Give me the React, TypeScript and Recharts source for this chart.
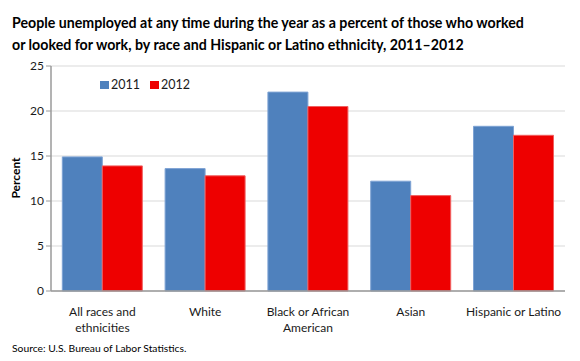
import React from "react";
import { Bar, BarChart, CartesianGrid, XAxis, YAxis } from "recharts";

const categories = [
  "All races and\nethnicities",
  "White",
  "Black or African\nAmerican",
  "Asian",
  "Hispanic or Latino",
];
const values2011 = [14.9, 13.6, 22.1, 12.2, 18.3];
const values2012 = [13.9, 12.8, 20.5, 10.6, 17.3];
const yTicks = [0, 5, 10, 15, 20, 25];

const FONT = "Lato, 'Open Sans', sans-serif";
const BLUE = "#4F81BD";
const RED = "#EE0000";

const data = categories.map((name, i) => ({
  name,
  y2011: values2011[i],
  y2012: values2012[i],
}));

function CategoryTick({ x, y, payload }: any) {
  const lines = String(payload.value).split("\n");
  return (
    <text x={x} y={y + 17} textAnchor="middle" fontFamily={FONT} fontSize={12} fill="#1a1a1a">
      {lines.map((l, i) => (
        <tspan key={i} x={x} dy={i === 0 ? 0 : 15.5}>
          {l}
        </tspan>
      ))}
    </text>
  );
}

const legendItems = [
  { label: "2011", color: BLUE },
  { label: "2012", color: RED },
];

export default function App() {
  return (
    <div style={{ position: "fixed", left: 0, top: 0, width: 580, height: 361, background: "#fff" }}>
      <div
        style={{
          position: "absolute",
          left: 12,
          top: 12,
          fontFamily: FONT,
          fontWeight: 700,
          fontSize: 14.2,
          lineHeight: "22px",
          color: "#000",
          whiteSpace: "nowrap",
        }}
      >
        People unemployed at any time during the year as a percent of those who worked
        <br />
        or looked for work, by race and Hispanic or Latino ethnicity, 2011–2012
      </div>
      <BarChart
        width={580}
        height={361}
        data={data}
        margin={{ top: 66, right: 15, bottom: 30, left: 11 }}
        barCategoryGap="11%"
        barGap={0}
      >
        <CartesianGrid vertical={false} stroke="#d9d9d9" strokeWidth={1} />
        <XAxis
          dataKey="name"
          tick={<CategoryTick />}
          tickLine={false}
          axisLine={{ stroke: "#9a9a9a", strokeWidth: 1.5 }}
          interval={0}
          height={40}
        />
        <YAxis
          domain={[0, 25]}
          ticks={yTicks}
          width={40}
          tick={{ fontFamily: FONT, fontSize: 12, fill: "#1a1a1a" }}
          tickLine={{ stroke: "#9a9a9a" }}
          tickSize={5}
          axisLine={{ stroke: "#9a9a9a", strokeWidth: 1.5 }}
        />
        <Bar dataKey="y2011" name="2011" fill={BLUE} stroke="#7ea3d4" strokeWidth={1} isAnimationActive={false} />
        <Bar dataKey="y2012" name="2012" fill={RED} stroke="#f06060" strokeWidth={1} isAnimationActive={false} />
      </BarChart>
      <div
        style={{
          position: "absolute",
          left: 15,
          top: 178,
          fontFamily: FONT,
          fontSize: 12,
          fontWeight: 700,
          color: "#000",
          transform: "translate(-50%, -50%) rotate(-90deg)",
          whiteSpace: "nowrap",
        }}
      >
        Percent
      </div>
      <div
        style={{
          position: "absolute",
          left: 100,
          top: 77,
          display: "flex",
          fontFamily: FONT,
          fontSize: 12.5,
          color: "#1a1a1a",
        }}
      >
        {legendItems.map((it) => (
          <div key={it.label} style={{ display: "flex", alignItems: "center", marginRight: 10 }}>
            <span style={{ width: 9, height: 8, background: it.color, marginRight: 2, display: "inline-block" }} />
            {it.label}
          </div>
        ))}
      </div>
      <div style={{ position: "absolute", left: 12, top: 342, fontFamily: FONT, fontSize: 10.3, color: "#000" }}>
        Source: U.S. Bureau of Labor Statistics.
      </div>
    </div>
  );
}
